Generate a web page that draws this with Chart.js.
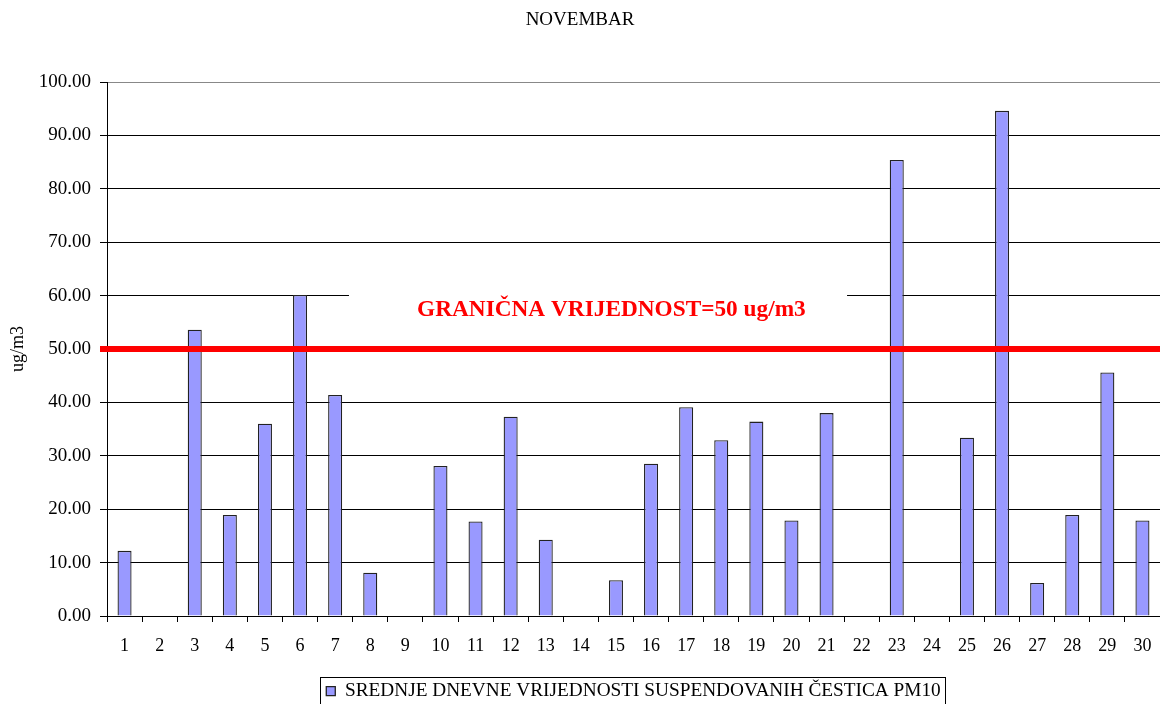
<!DOCTYPE html>
<html><head><meta charset="utf-8">
<script src="https://cdn.jsdelivr.net/npm/chart.js@4"></script>
<style>html,body{margin:0;padding:0;background:#fff}canvas{display:block}</style>
</head><body>
<canvas id="c" width="1160" height="704"></canvas>
<script>
// ---- data ----
const chartTitle = 'NOVEMBAR';
const days = ['1','2','3','4','5','6','7','8','9','10','11','12','13','14','15','16','17','18','19','20','21','22','23','24','25','26','27','28','29','30'];
const pm10 = [12.2, null, 53.6, 18.9, 36.0, 60.1, 41.4, 8.1, null, 28.1, 17.7, 37.3, 14.3, null, 6.7, 28.5, 39.1, 32.9, 36.4, 17.9, 38.0, null, 85.4, null, 33.4, 94.6, 6.2, 18.9, 45.6, 17.9];
const seriesLabel = 'SREDNJE DNEVNE VRIJEDNOSTI SUSPENDOVANIH ČESTICA PM10';
const yAxisLabel = 'ug/m3';
const yMin = 0, yMax = 100, yStep = 10;
const limitValue = 50;
const limitLabel = 'GRANIČNA VRIJEDNOST=50 ug/m3';

const SERIF = '"Liberation Serif", "Times New Roman", serif';
Chart.defaults.font.family = SERIF;
Chart.defaults.color = '#000';

const limitPlugin = {
  id: 'limitLine',
  beforeDatasetsDraw(chart) {
    const {ctx, chartArea: a, scales: {y}} = chart;
    const W = a.right - a.left;
    ctx.save();
    ctx.fillStyle = '#fff';
    const x0 = a.left + 0.2298 * W, x1 = a.left + 0.7028 * W;
    const y0 = y.getPixelForValue(61.5), y1 = y.getPixelForValue(52.8);
    ctx.fillRect(x0, y0, x1 - x0, y1 - y0);
    ctx.restore();
  },
  afterDatasetsDraw(chart) {
    const {ctx, chartArea: a, scales: {y}} = chart;
    const W = a.right - a.left;
    const py = y.getPixelForValue(limitValue);
    ctx.save();
    ctx.strokeStyle = '#ff0000';
    ctx.lineWidth = 6;
    ctx.beginPath();
    ctx.moveTo(a.left - 7, py);
    ctx.lineTo(a.right, py);
    ctx.stroke();
    ctx.fillStyle = '#ff0000';
    ctx.font = 'bold 23.3px ' + SERIF;
    ctx.textAlign = 'center';
    ctx.textBaseline = 'middle';
    ctx.fillText(limitLabel, a.left + 0.479 * W, y.getPixelForValue(57.3));
    ctx.restore();
  }
};

function centerLegend(chart) {
  const lg = chart.legend;
  if (!lg) return;
  lg.left = chart.chartArea.left;
  lg.right = chart.chartArea.right;
  lg.width = lg.right - lg.left;
  if (lg.adjustHitBoxes) lg.adjustHitBoxes();
}

const legendBoxPlugin = {
  id: 'legendBox',
  afterLayout(chart) { centerLegend(chart); },
  beforeDraw(chart) { centerLegend(chart); },
  afterDraw(chart) {
    const lg = chart.legend;
    if (!lg || !lg.legendHitBoxes || !lg.legendHitBoxes.length) return;
    const hb = lg.legendHitBoxes[0];
    const {ctx} = chart;
    ctx.save();
    ctx.strokeStyle = '#000';
    ctx.lineWidth = 1;
    const l = Math.round(hb.left - 6) + 0.5;
    const r = Math.round(hb.left + hb.width + 4) + 0.5;
    const t = Math.round(lg.top) + 0.5;
    ctx.strokeRect(l, t, r - l, chart.height + 2 - t);
    ctx.restore();
  }
};

new Chart(document.getElementById('c'), {
  type: 'bar',
  data: {
    labels: days,
    datasets: [{
      label: seriesLabel,
      data: pm10,
      backgroundColor: '#9999ff',
      borderColor: '#222',
      borderWidth: 1.3,
      barPercentage: 0.4,
      categoryPercentage: 1.0
    }]
  },
  options: {
    responsive: false,
    animation: false,
    devicePixelRatio: 1,
    layout: {padding: 0},
    plugins: {
      title: {
        display: true,
        text: chartTitle,
        color: '#000',
        font: {family: SERIF, size: 19, weight: 'normal'},
        padding: {top: 8.6, bottom: 50.6}
      },
      legend: {
        display: true,
        position: 'bottom',
        maxHeight: 27,
        labels: {
          color: '#000',
          font: {family: SERIF, size: 19.3},
          boxWidth: 9,
          boxHeight: 9,
          padding: 4.5
        }
      },
      tooltip: {enabled: false}
    },
    scales: {
      x: {
        afterFit(s) { s.height = 61; },
        grid: {display: true, drawOnChartArea: false, drawTicks: true, tickLength: 6, color: '#000', offset: true},
        border: {display: true, color: '#000', width: 1},
        ticks: {autoSkip: false, maxRotation: 0, padding: 2, color: '#000', font: {family: SERIF, size: 18, lineHeight: 2.45}}
      },
      y: {
        min: yMin, max: yMax,
        afterFit(s) { s.width = 107; },
        grid: {
          color: (c) => (c.tick && c.tick.value === yMax ? '#888' : '#000'),
          tickColor: '#000',
          tickLength: 7,
          lineWidth: 1
        },
        border: {display: true, color: '#000', width: 1},
        ticks: {
          stepSize: yStep,
          padding: 9,
          color: '#000',
          font: {family: SERIF, size: 19},
          callback: (v) => Number(v).toFixed(2)
        },
        title: {
          display: true,
          text: yAxisLabel,
          color: '#000',
          font: {family: SERIF, size: 18},
          padding: {top: 7, bottom: 0}
        }
      }
    }
  },
  plugins: [limitPlugin, legendBoxPlugin]
});
</script>
</body></html>
